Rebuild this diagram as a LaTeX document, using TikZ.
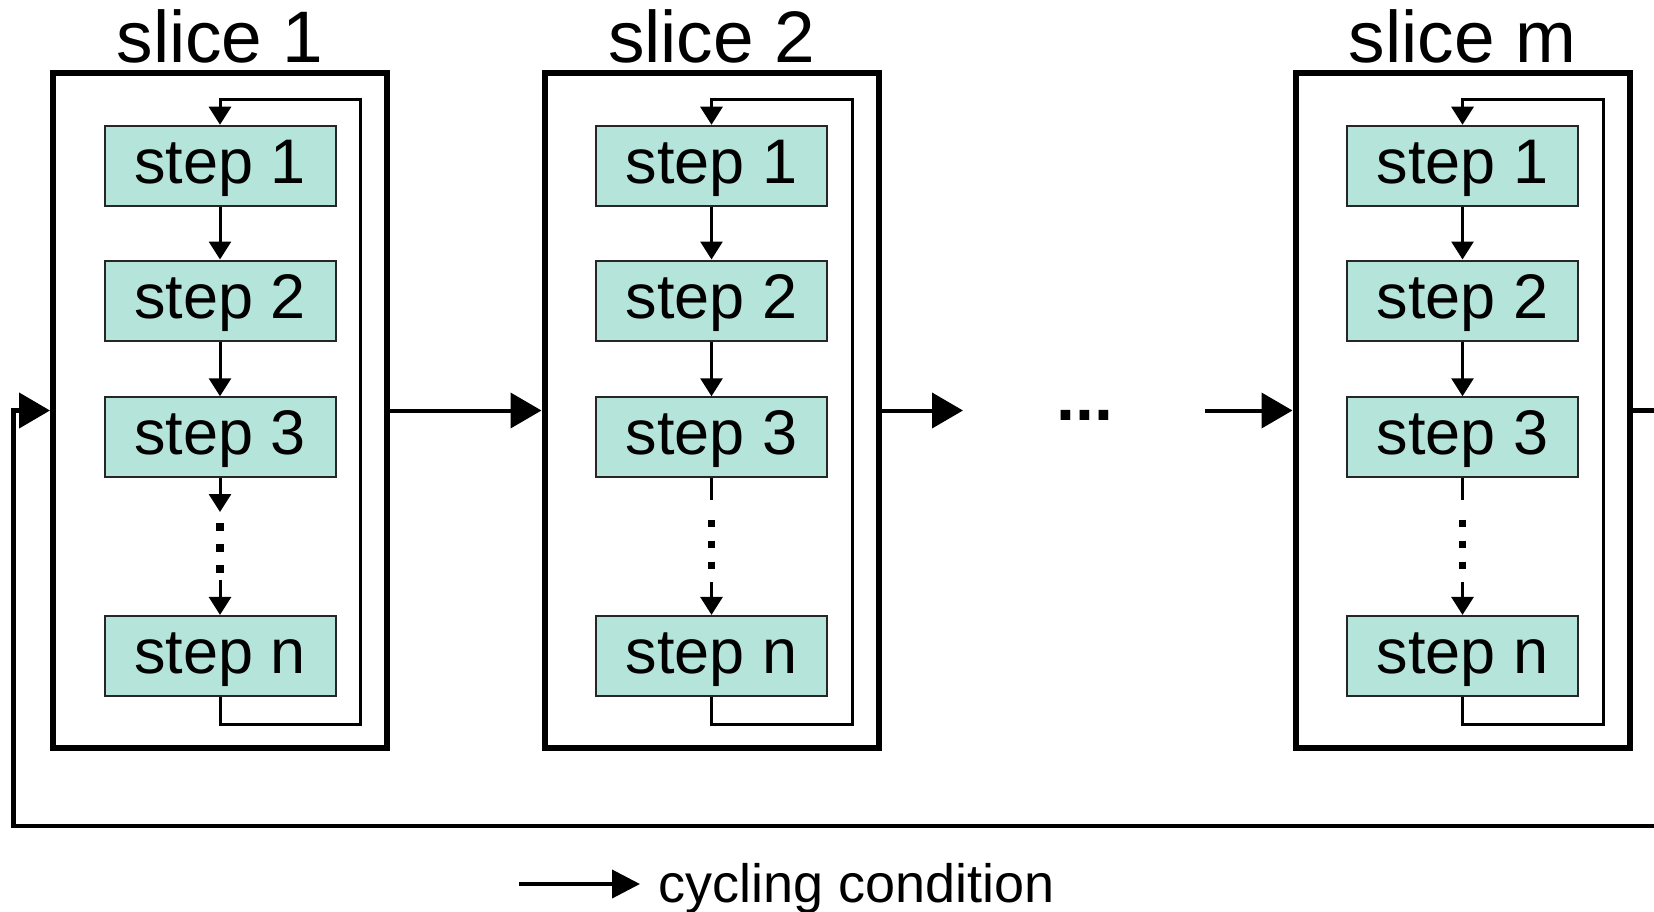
\documentclass[tikz,border=0pt]{standalone}
\usepackage{fontspec}
\setmainfont{Liberation Sans}
\usetikzlibrary{arrows.meta,calc}
\definecolor{stepfill}{RGB}{181,228,218}
\begin{document}
\begin{tikzpicture}[x=1pt,y=-1pt,
  slicebox/.style={draw, line width=6pt, minimum width=334pt, minimum height=674pt, inner sep=0pt},
  stepbox/.style={draw=black!85, line width=2pt, fill=stepfill, minimum width=231pt, minimum height=80pt, inner sep=0pt, font=\fontsize{63}{70}\selectfont, text height=46pt, text depth=11pt},
  slicetitle/.style={anchor=base, inner sep=0pt, font=\fontsize{73}{80}\selectfont},
  thinarrow/.style={line width=3pt, -{Triangle[length=18pt,width=22pt]}},
  thinline/.style={line width=3pt},
  dotline/.style={line width=7.5pt, dash pattern=on 7.5pt off 13.5pt},
  mainarrow/.style={line width=4pt, -{Triangle[length=31pt,width=35pt]}},
]
\path[use as bounding box, clip] (0,0) rectangle (1654,912);

\foreach \i/\x/\t in {1/53/1, 2/544.5/2, m/1295.5/m} {
  \node[slicebox] (box\i) at (\x+167, 410.5) {};
  \node[slicetitle] (title\i) at (\x+167, 63) {slice \t};
  \node[stepbox] (a\i) at (\x+167, 165.75) {step 1};
  \node[stepbox] (b\i) at (\x+167, 300.5) {step 2};
  \node[stepbox] (c\i) at (\x+167, 437.25) {step 3};
  \node[stepbox] (n\i) at (\x+167, 655.9) {step n};
  \draw[thinarrow] (a\i) -- (b\i);
  \draw[thinarrow] (b\i) -- (c\i);
  \coordinate (lp\i) at (\x+307.5, 100);
  \draw[thinarrow] (n\i.south) -- ++(0,27.5) -| (lp\i) -| (a\i.north);
}

% dotted continuation, slice 1 (with an extra arrowhead)
\coordinate (t1) at (220, 512);
\coordinate (d11) at (220, 523);
\coordinate (d21) at (220, 573);
\coordinate (u1) at (220, 580);
\draw[thinarrow] (c1.south) -- (t1);
\draw[dotline] (d11) -- (d21);
\draw[thinarrow] (u1) -- (n1.north);

% dotted continuation, slices 2 and m
\foreach \i/\x in {2/711.5, m/1462.5} {
  \coordinate (t\i) at (\x, 499.5);
  \coordinate (d1\i) at (\x, 519.5);
  \coordinate (d2\i) at (\x, 570);
  \coordinate (u\i) at (\x, 582);
  \draw[thinline] (c\i.south) -- (t\i);
  \draw[dotline] (d1\i) -- (d2\i);
  \draw[thinarrow] (u\i) -- (n\i.north);
}

% main flow
\draw[mainarrow] (box1) -- (box2);
\coordinate (gapL) at (963, 410.5);
\coordinate (gapR) at (1205, 410.5);
\draw[mainarrow] (box2.east) -- (gapL);
\node[anchor=base, inner sep=0pt, font=\bfseries\fontsize{68}{80}\selectfont] (ell) at (1085, 420) {...};
\draw[mainarrow] (gapR) -- (boxm.west);

% feedback loop
\coordinate (fbR) at (1690, 410.5);
\coordinate (fbB) at (13.3, 826);
\draw[line width=4.5pt, -{Triangle[length=31pt,width=35pt]}] (boxm.east) -- (fbR) |- (fbB) |- (box1.west);

% legend
\coordinate (lgA) at (519, 884);
\coordinate (lgB) at (640, 884);
\node[anchor=base west, inner sep=0pt, font=\fontsize{54}{60}\selectfont] (lgtext) at (658, 902) {cycling condition};
\draw[line width=4pt, -{Triangle[length=28pt,width=28pt]}] (lgA) -- (lgB);
\end{tikzpicture}
\end{document}
